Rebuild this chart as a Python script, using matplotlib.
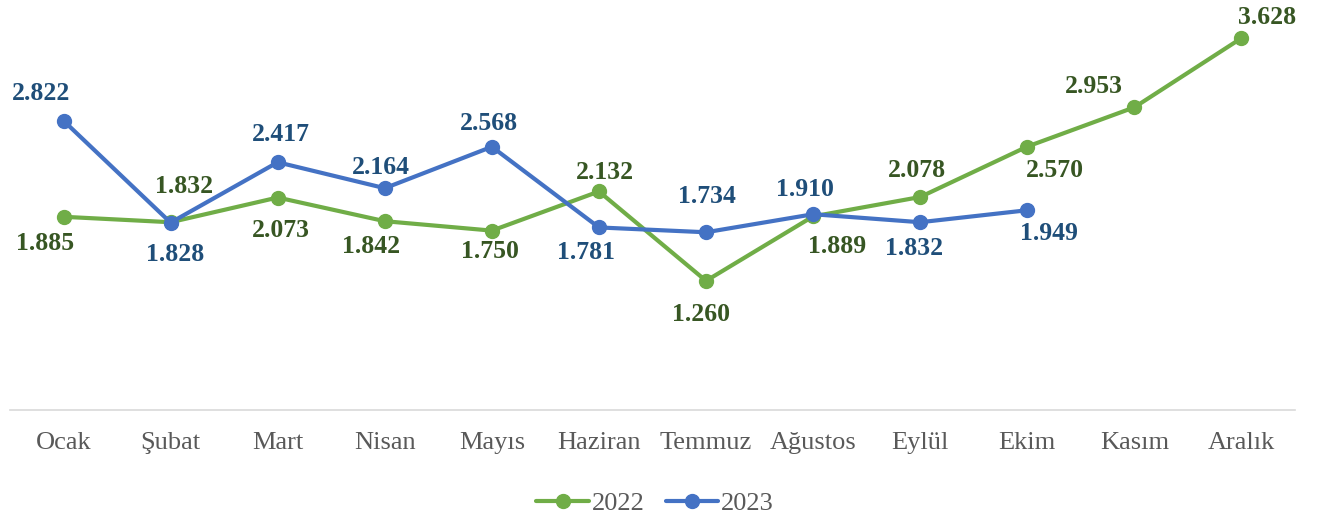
import matplotlib.pyplot as plt

months = ["Ocak", "Şubat", "Mart", "Nisan", "Mayıs", "Haziran", "Temmuz",
          "Ağustos", "Eylül", "Ekim", "Kasım", "Aralık"]
y2022 = [1.885, 1.832, 2.073, 1.842, 1.750, 2.132, 1.260, 1.889, 2.078, 2.570, 2.953, 3.628]
y2023 = [2.822, 1.828, 2.417, 2.164, 2.568, 1.781, 1.734, 1.910, 1.832, 1.949]

# label offsets in pixels (dx, dy)
off2022 = [(-18, -27), (13, 36), (3, -33), (-14, -25), (-2, -21), (6, 19),
           (-5, -34), (24, -30), (-3, 27), (28, -24), (-40, 21), (26, 21)]
off2023 = [(-22, 27), (4, -32), (3, 28), (-4, 21), (-3, 23), (-13, -25),
           (1, 36), (-8, 25), (-6, -26), (22, -23)]

plt.rcParams['font.family'] = ['Liberation Serif', 'DejaVu Serif']

fig = plt.figure(figsize=(13.21, 5.23), dpi=100)
ax = fig.add_axes([10 / 1321, 113 / 523, 1285 / 1321, 410 / 523])

x22 = list(range(len(y2022)))
x23 = list(range(len(y2023)))
ax.plot(x22, y2022, color='#70AD47', lw=3, marker='o', ms=10, label='2022',
        solid_capstyle='round')
ax.plot(x23, y2023, color='#4472C4', lw=3, marker='o', ms=10, label='2023',
        solid_capstyle='round')

for i, v in enumerate(y2022):
    ax.annotate(f"{v:.3f}", (i, v), xytext=off2022[i], textcoords='offset pixels',
                ha='center', va='center', fontsize=18.5, fontweight='bold', color='#375623')
for i, v in enumerate(y2023):
    ax.annotate(f"{v:.3f}", (i, v), xytext=off2023[i], textcoords='offset pixels',
                ha='center', va='center', fontsize=18.5, fontweight='bold', color='#1F4E79')

ax.set_xlim(-0.5, 11.5)
ax.set_ylim(0, 4)
ax.set_xticks(range(len(months)))
ax.set_xticklabels(months, fontsize=19, color='#595959')
ax.tick_params(axis='x', length=0, pad=16)
ax.set_yticks([])
for s in ['top', 'left', 'right']:
    ax.spines[s].set_visible(False)
ax.spines['bottom'].set_color('#D9D9D9')
ax.spines['bottom'].set_linewidth(1.2)
ax.set_facecolor('none')

fig.legend(loc='center', bbox_to_anchor=(655 / 1321, 1 - 503 / 523), ncol=2, frameon=False,
           fontsize=19, labelcolor='#595959', handlelength=2.0, handletextpad=0.1,
           columnspacing=0.8)

fig.savefig('out.png', dpi=100)
